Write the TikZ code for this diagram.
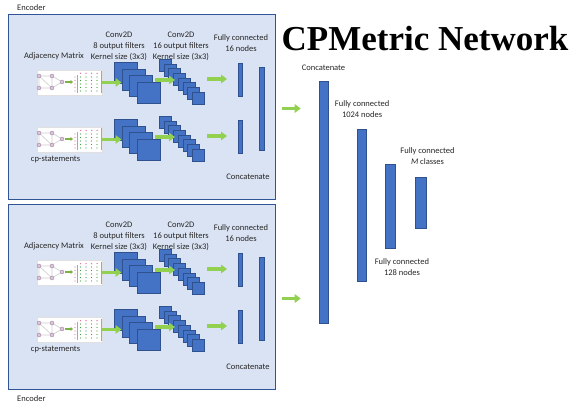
\documentclass[tikz,border=0pt]{standalone}
\usepackage{fontspec}
\setmainfont{Carlito}
\newfontfamily\titlefont{Liberation Serif}
\usetikzlibrary{arrows.meta, positioning}

\definecolor{encfill}{HTML}{DAE3F3}
\definecolor{encline}{HTML}{2F5597}
\definecolor{blkfill}{HTML}{4472C4}
\definecolor{blkline}{HTML}{2F528F}
\definecolor{flowgreen}{HTML}{92D050}
\definecolor{vertpink}{HTML}{C8A2C8}
\definecolor{dotpink}{HTML}{E07AA8}

\tikzset{
  encbox/.style={draw=encline, fill=encfill, line width=0.8pt, inner sep=0, anchor=north west, minimum width=267pt, minimum height=185pt},
  lbl/.style={font=\fontsize{8.5}{11}\selectfont, align=center, inner sep=0, text=black!85},
  fmap/.style={draw=blkline, fill=blkfill, line width=0.6pt, inner sep=0, anchor=north west},
  bar/.style={draw=blkline, fill=blkfill, line width=0.6pt, inner sep=0},
  flow/.style={draw=flowgreen, line width=3.5pt, -{Triangle[length=6pt, width=8.5pt]}},
  iconbox/.style={fill=white, draw=black!12, line width=0.3pt, inner sep=0, minimum width=65pt, minimum height=25pt},
}

\begin{document}
\begin{tikzpicture}[x=1pt, y=-1pt]
    \useasboundingbox (0,0) rectangle (581,409);

    % two encoders, the lower one 190 px further down
    \foreach \e/\dy in {0/0, 1/190} {
        \node[encbox] (enc\e) at (8,14+\dy) {};

        \foreach \r/\ry in {0/0, 1/57} {
            \node[iconbox] (icon\e\r) at (69.5,82.5+\dy+\ry) {};
            % graph and its adjacency matrix
            \begin{scope}[shift={(icon\e\r.center)}]
                \draw[black!20, line width=0.6pt] (-30.5,-6.5) -- (-17.5,-6.5) -- (-7.5,-0.5) -- (-17.5,5.5) -- (-30.5,5.5) -- cycle
                    (-30.5,-6.5) -- (-17.5,5.5) (-17.5,-6.5) -- (-17.5,5.5);
                \foreach \p in {(-30.5,-6.5), (-17.5,-6.5), (-7.5,-0.5), (-17.5,5.5), (-30.5,5.5)}
                    \filldraw[draw=vertpink!70!black, fill=vertpink!60, line width=0.3pt] \p circle (2);
                \draw[flowgreen!85!black, line width=1.5pt, -{Triangle[length=2.5pt, width=4pt]}] (-4.5,-0.5) -- (3.5,-0.5);
                \draw[black!35, line width=0.3pt] (8,-7) -- (7.2,-7) -- (7.2,10) -- (8,10) (31.5,-11) -- (31.5,11);
                \foreach \i in {0,...,3} {
                    \fill[dotpink] (11+5.5*\i,-9) circle (0.75);
                    \foreach \j in {0,...,4}
                        \fill[green!50!black!75] (11+5.5*\i,-5.5+3.5*\j) circle (0.7);
                }
                \foreach \j in {0,...,4}
                    \fill[dotpink] (5.5,-5.5+3.5*\j) circle (0.7);
            \end{scope}

            % Conv2D, 8 filters
            \foreach \i in {0,...,3}
                \node[fmap, minimum width=23pt, minimum height=21pt] (fa\e\r\i) at (114+7.5*\i,62+6.7*\i+\dy+\ry) {};
            % Conv2D, 16 filters
            \foreach \i in {0,...,7}
                \node[fmap, minimum size=12pt] (fb\e\r\i) at (159+4.7*\i,59+4.7*\i+\dy+\ry) {};
            \node[bar, minimum width=4pt, minimum height=33pt] (fc\e\r) at (240.5,79.5+\dy+\ry) {};

            \coordinate (ga\e\r) at (155,80+\dy+\ry);
            \coordinate (gb\e\r) at (175,80+\dy+\ry);
            \coordinate (gc\e\r) at (207,79+\dy+\ry);
            \coordinate (gd\e\r) at (227,79+\dy+\ry);
            \draw[flow] (icon\e\r.east) -- (icon\e\r.east -| fa\e\r1.west);
            \draw[flow] (ga\e\r) -- (gb\e\r);
            \draw[flow] (gc\e\r) -- (gd\e\r);
        }

        \node[lbl, above=10pt of icon\e0, xshift=-15.5pt] (adj\e) {Adjacency Matrix};
        \node[lbl, below=4pt of icon\e1, xshift=-14pt] (cps\e) {cp-statements};
        \node[lbl] (cva\e) at (119,46+\dy) {Conv2D\\8 output filters\\Kernel size (3x3)};
        \node[lbl] (cvb\e) at (181,46+\dy) {Conv2D\\16 output filters\\Kernel size (3x3)};
        \node[lbl] (fcl\e) at (241,43+\dy) {Fully connected\\16 nodes};

        \node[bar, minimum width=5pt, minimum height=83pt] (cat\e) at (261.5,108.5+\dy) {};
        \node[lbl] (catl\e) at (248,177+\dy) {Concatenate};
    }

    \node[lbl, above right=3.5pt and 9pt of enc0.north west] (encl0) {Encoder};
    \node[lbl, below right=6pt and 9pt of enc1.south west] (encl1) {Encoder};

    \node[font=\titlefont\bfseries\fontsize{35}{40}\selectfont, inner sep=0] (title) at (425,39) {CPMetric Network};

    % classifier
    \node[bar, minimum width=9pt, minimum height=242pt] (catall) at (323.5,202) {};
    \node[bar, minimum width=9pt, minimum height=152pt, right=29pt of catall, yshift=-3pt] (fc1024) {};
    \node[bar, minimum width=10.5pt, minimum height=84pt, right=18pt of fc1024, yshift=-1pt] (fc128) {};
    \node[bar, minimum width=10.5pt, minimum height=51pt, right=19pt of fc128, yshift=3.5pt] (fcm) {};

    \node[lbl, above=9.8pt of catall] (catalll) {Concatenate};
    \node[lbl, above=11pt of fc1024] (fc1024l) {Fully connected\\1024 nodes};
    \node[lbl, below=10pt of fc128, xshift=11.5pt] (fc128l) {Fully connected\\128 nodes};
    \node[lbl, above=12pt of fcm, xshift=7pt] (fcml) {Fully connected\\\textit{M} classes};

    \draw[flow, shorten <=18pt, shorten >=18pt] (cat0.east) -- (cat0.east -| catall.west);
    \draw[flow, shorten <=18pt, shorten >=18pt] (cat1.east) -- (cat1.east -| catall.west);
\end{tikzpicture}
\end{document}
